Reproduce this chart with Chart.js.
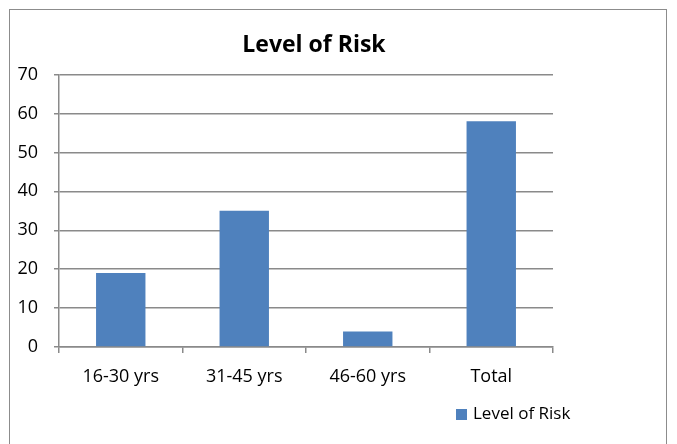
<!DOCTYPE html>
<html>
<head>
<meta charset="utf-8">
<script src="https://cdn.jsdelivr.net/npm/chart.js@4/dist/chart.umd.min.js"></script>
<style>
  html, body { margin: 0; padding: 0; background: #fff; }
  #wrap { position: relative; width: 677px; height: 444px; overflow: hidden; }
  #frame { position: absolute; left: 9px; top: 9px; width: 658px; height: 460px; border: 1px solid #8c8c8c; box-sizing: border-box; }
  canvas { position: absolute; left: 0; top: 0; }
</style>
</head>
<body>
<div id="wrap">
  <div id="frame"></div>
  <canvas id="c" width="677" height="444"></canvas>
</div>
<script>
const categories = ['16-30 yrs', '31-45 yrs', '46-60 yrs', 'Total'];
const riskValues = [19, 35, 4, 58];
const seriesName = 'Level of Risk';
const yTicks = [0, 10, 20, 30, 40, 50, 60, 70];

const FONT = "'Open Sans', 'DejaVu Sans', sans-serif";
const GRID = '#8a8a8a';
const BAR = '#4f81bd';

// legend drawn at the lower right, beside the plot
const legendRight = {
  id: 'legendRight',
  afterDraw(chart) {
    const ctx = chart.ctx;
    const ds = chart.data.datasets[0];
    ctx.save();
    ctx.fillStyle = ds.backgroundColor;
    ctx.fillRect(456, 409, 11, 11);
    ctx.fillStyle = '#000';
    ctx.font = "17px " + FONT;
    ctx.textBaseline = 'middle';
    ctx.textAlign = 'left';
    ctx.fillText(ds.label, 473, 414);
    ctx.restore();
  }
};

new Chart(document.getElementById('c'), {
  type: 'bar',
  data: {
    labels: categories,
    datasets: [{
      label: seriesName,
      data: riskValues,
      backgroundColor: BAR,
      borderWidth: 0,
      categoryPercentage: 1,
      barPercentage: 0.4
    }]
  },
  options: {
    responsive: false,
    animation: false,
    devicePixelRatio: 1,
    layout: { padding: { left: 0, right: 49, top: 0, bottom: 0 } },
    plugins: {
      legend: { display: false },
      tooltip: { enabled: false },
      title: {
        display: true,
        text: seriesName,
        color: '#000',
        font: { family: FONT, size: 23, weight: 'bold', lineHeight: 1.2 },
        padding: { top: 32, bottom: 15 }
      }
    },
    scales: {
      x: {
        grid: { display: true, drawOnChartArea: false, color: GRID, lineWidth: 1.5, tickLength: 6, offset: true },
        border: { color: GRID, width: 1.5 },
        ticks: { color: '#000', font: { family: FONT, size: 18 }, padding: 13 },
        afterFit(s) { s.height = 97; }
      },
      y: {
        min: 0, max: 70,
        afterBuildTicks(s) { s.ticks = yTicks.map(v => ({ value: v })); },
        grid: { color: GRID, lineWidth: 1.5, tickLength: 5 },
        border: { color: GRID, width: 1.5 },
        ticks: { color: '#000', font: { family: FONT, size: 18 }, padding: 16 },
        afterFit(s) { s.width = 59; }
      },
      pad: {
        position: 'right',
        display: true,
        grid: { display: false },
        border: { display: false },
        ticks: { display: false },
        afterFit(s) { s.width = 75; }
      }
    }
  },
  plugins: [legendRight]
});
</script>
</body>
</html>
